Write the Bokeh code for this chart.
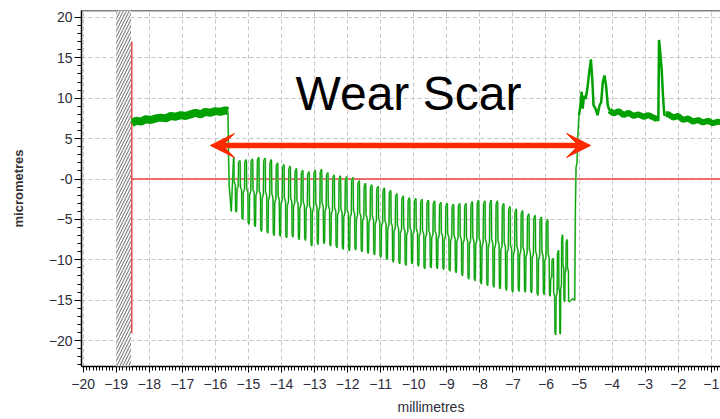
from bokeh.plotting import figure
from bokeh.models import (Range1d, FixedTicker, BoxAnnotation, Arrow, VeeHead,
                          Title, Span, Label)
from bokeh.embed import file_html
from bokeh.resources import INLINE

# ---- profile data (millimetres, micrometres) ----
# unworn surface left of the scar
left_x = [-18.53, -18.4, -18.25, -18.1, -17.95, -17.8, -17.65, -17.5, -17.35, -17.2,
          -17.05, -16.9, -16.75, -16.6, -16.45, -16.3, -16.15, -16.0, -15.85, -15.7, -15.62]
left_y = [6.9, 7.2, 7.1, 7.4, 7.3, 7.5, 7.6, 7.5, 7.8, 7.7,
          7.9, 7.8, 8.0, 8.2, 8.0, 8.3, 8.2, 8.4, 8.3, 8.5, 8.4]

# drop into the scar
entry_x = [-15.62, -15.60, -15.58, -15.52]
entry_y = [8.4, 2.5, -1.0, -4.0]

# scar ripples: peak position, peak height and following trough depth
scar_x = [-15.45, -15.26, -15.07, -14.88, -14.69, -14.50, -14.31, -14.12, -13.93, -13.74,
          -13.55, -13.36, -13.17, -12.98, -12.79, -12.60, -12.41, -12.22, -12.03, -11.84,
          -11.65, -11.46, -11.27, -11.08, -10.89, -10.70, -10.51, -10.32, -10.13, -9.94,
          -9.75, -9.56, -9.37, -9.18, -8.99, -8.80, -8.61, -8.42, -8.23, -8.04,
          -7.85, -7.66, -7.47, -7.28, -7.09, -6.90, -6.71, -6.52, -6.33, -6.14,
          -5.95, -5.78, -5.62, -5.50, -5.36]
scar_hi = [2.7, 2.3, 2.4, 2.5, 2.7, 2.6, 2.4, 2.0, 1.8, 1.6,
           1.3, 1.1, 0.9, 1.1, 1.2, 0.8, 0.5, 0.4, 0.3, 0.2,
           -0.2, -0.5, -0.7, -0.9, -1.1, -1.4, -1.8, -2.1, -2.3, -2.4,
           -2.5, -2.6, -2.7, -2.9, -3.0, -3.1, -3.0, -3.0, -2.8, -2.6,
           -2.7, -2.6, -2.7, -3.0, -3.4, -3.7, -3.9, -4.3, -4.5, -4.7,
           -5.0, -9.8, -8.8, -6.9, -7.5]
scar_lo = [-4.1, -5.0, -5.6, -5.9, -6.5, -6.7, -7.0, -7.1, -7.3, -7.2,
           -7.5, -7.6, -8.3, -8.1, -8.0, -8.3, -8.5, -8.7, -8.9, -8.8,
           -9.0, -9.2, -9.4, -9.7, -10.0, -10.3, -10.5, -10.7, -10.5, -10.8,
           -11.1, -11.0, -11.1, -11.2, -11.4, -11.6, -12.0, -12.4, -12.6, -13.0,
           -13.2, -13.4, -13.6, -13.8, -14.0, -13.9, -14.0, -14.1, -14.4, -14.3,
           -14.5, -19.3, -19.2, -15.2, -15.2]

# climb out of the scar and the ridge beyond
exit_x = [-5.29, -5.20, -5.13, -5.11, -5.09, -5.06, -5.04, -5.00]
exit_y = [-15.2, -14.8, -15.0, -4.0, 1.4, 2.0, 5.0, 7.9]
ridge_x = [-5.00, -4.96, -4.92, -4.89, -4.85, -4.80, -4.75, -4.69, -4.64, -4.60,
           -4.56, -4.50, -4.44, -4.38, -4.33, -4.28, -4.23, -4.18, -4.13, -4.08]
ridge_y = [7.9, 9.0, 10.8, 8.7, 10.3, 9.9, 11.1, 13.2, 14.8, 12.4,
           9.1, 8.7, 7.9, 9.1, 9.5, 12.0, 12.8, 11.5, 9.1, 8.5]

# unworn surface right of the scar, with an isolated asperity
right_x = [-4.08, -3.95, -3.8, -3.65, -3.5, -3.35, -3.2, -3.05, -2.9, -2.75, -2.63]
right_y = [8.5, 8.1, 8.4, 7.9, 8.2, 7.8, 8.0, 7.7, 7.9, 7.6, 7.4]
spike_x = [-2.63, -2.60, -2.58, -2.55, -2.50, -2.46, -2.42, -2.38]
spike_y = [7.4, 7.2, 17.2, 16.0, 13.6, 10.3, 7.9, 8.0]
tail_x = [-2.38, -2.3, -2.15, -2.0, -1.85, -1.7, -1.55, -1.4, -1.25, -1.1, -0.95, -0.8, -0.72]
tail_y = [8.0, 8.0, 7.6, 7.8, 7.3, 7.5, 7.1, 7.3, 7.0, 7.2, 6.9, 7.1, 7.0]

# reference markers
datum_x = -18.53
datum_top, datum_bottom = 17.0, -19.1
masked_left, masked_right = -19.0, -18.55
scar_start, scar_end, arrow_level = -16.15, -4.65, 4.15

x_major = list(range(-20, 0))
y_major = [-20, -15, -10, -5, 0, 5, 10, 15, 20]

# ---- build ripple outline from the peak / trough values ----
# one cycle: short crest, steep fall to a shoulder, steep fall to the trough,
# steep rise to a shoulder, steep rise to the next crest
shape_t = [0.00, 0.05, 0.09, 0.28, 0.33, 0.45, 0.50, 0.55, 0.74, 0.80]
shape_f = [1.00, 0.97, 0.55, 0.50, 0.03, 0.00, 0.05, 0.45, 0.50, 0.96]
rip_x, rip_y = list(entry_x), list(entry_y)
for i, (x0, hi, lo) in enumerate(zip(scar_x, scar_hi, scar_lo)):
    period = (scar_x[i + 1] - x0) if i + 1 < len(scar_x) else (x0 - scar_x[i - 1])
    nxt_hi = scar_hi[i + 1] if i + 1 < len(scar_x) else hi
    for t, f in zip(shape_t, shape_f):
        top = hi if t <= 0.5 else nxt_hi
        rip_x.append(x0 + t * period)
        rip_y.append(lo + f * (top - lo))
rip_x = rip_x[:-4]
rip_y = rip_y[:-4]
rip_x += exit_x
rip_y += exit_y

p = figure(width=720, height=419, output_backend="svg", toolbar_location=None,
           x_range=Range1d(-20.05, -0.72), y_range=Range1d(-23.2, 20.85),
           min_border_left=81, min_border_right=0, min_border_top=10, min_border_bottom=47)
p.outline_line_color = None
p.background_fill_color = "white"

# grid
for g in (p.xgrid, p.ygrid):
    g.grid_line_color = "#c4c4c4"
    g.grid_line_dash = "4 3"
    g.grid_line_width = 1
p.xgrid.ticker = FixedTicker(ticks=x_major)
p.ygrid.ticker = FixedTicker(ticks=y_major)

# axes
tick_font = "Liberation Sans"
p.xaxis.ticker = FixedTicker(ticks=x_major, minor_ticks=[round(-20 + 0.1 * k, 1) for k in range(0, 194)])
p.yaxis.ticker = FixedTicker(ticks=y_major, minor_ticks=list(range(-23, 21)))
p.yaxis.major_label_overrides = {0: "-0"}
for ax in (p.xaxis, p.yaxis):
    ax.axis_line_color = "black"
    ax.axis_line_width = 1.5
    ax.major_tick_line_color = "black"
    ax.minor_tick_line_color = "black"
    ax.major_tick_in = 0
    ax.minor_tick_in = 0
    ax.major_label_text_font = tick_font
    ax.major_label_text_font_size = "14px"
    ax.major_label_text_color = "#2e2e3a"
p.xaxis.major_tick_out = 6
p.xaxis.minor_tick_out = 4
p.yaxis.major_tick_out = 7
p.yaxis.minor_tick_out = 4
p.xaxis.major_label_standoff = 6
p.yaxis.major_label_standoff = 2
p.yaxis.axis_label = "micrometres"
p.yaxis.axis_label_text_font = "Liberation Sans"
p.yaxis.axis_label_text_font_size = "13px"
p.yaxis.axis_label_text_font_style = "bold"
p.yaxis.axis_label_text_color = "#333333"
p.yaxis.axis_label_standoff = 20

p.add_layout(Title(text="millimetres", align="left", offset=316,
                   text_font=tick_font, text_font_size="14px",
                   text_font_style="normal", text_color="#2e2e3a"), "below")

# top border of the plotting area
p.add_layout(Span(location=20.85, dimension="width", line_color="black", line_width=1.5))

# masked (hatched) strip before the measurement start
p.add_layout(BoxAnnotation(left=masked_left, right=masked_right,
                           fill_color="#f2f2f2", fill_alpha=1.0, line_color=None,
                           hatch_pattern="/", hatch_color="#7a7a7a",
                           hatch_scale=6, hatch_weight=1.0))

# datum lines
p.segment(x0=[datum_x], y0=[datum_top], x1=[datum_x], y1=[datum_bottom],
          line_color="#ee4040", line_width=1.5)
p.segment(x0=[datum_x], y0=[0], x1=[-0.72], y1=[0],
          line_color="#ee4040", line_width=1.5)

green = "#00a000"
p.line(left_x, left_y, line_color=green, line_width=8)
p.line(rip_x, rip_y, line_color="#7fd07f", line_width=1.8)
p.line(rip_x, rip_y, line_color=green, line_width=1.0)
p.line(ridge_x, ridge_y, line_color=green, line_width=2.5)
p.line(right_x, right_y, line_color=green, line_width=6)
p.line(spike_x, spike_y, line_color=green, line_width=2.5)
p.line(tail_x, tail_y, line_color=green, line_width=6)

# double-headed arrow spanning the scar
red = "#ff2a00"
p.add_layout(Arrow(x_start=scar_start, y_start=arrow_level, x_end=scar_end, y_end=arrow_level,
                   line_color=red, line_width=5.5,
                   start=VeeHead(size=24, fill_color=red, line_color=red),
                   end=VeeHead(size=24, fill_color=red, line_color=red)))

p.add_layout(Label(x=-10.16, y=10.54, text="Wear Scar", text_align="center",
                   text_baseline="alphabetic", text_font="Liberation Sans",
                   text_font_size="48px", text_color="black"))

open("out.html", "w").write(file_html(p, INLINE))
